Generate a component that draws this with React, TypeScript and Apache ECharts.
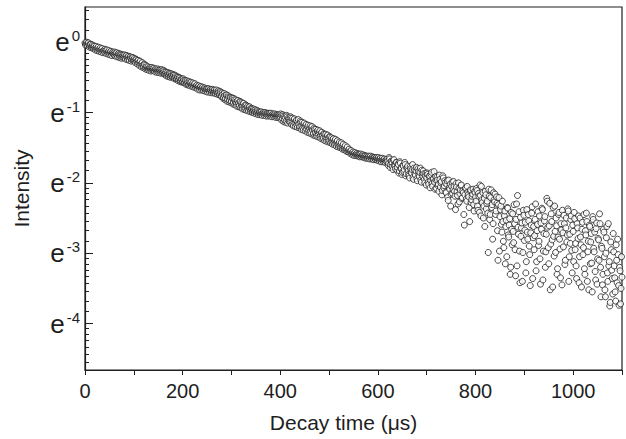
import React, { useEffect, useRef } from "react";
import * as echarts from "echarts";

// Sampling: each block holds every other sample (step 2 µs); the "o" blocks are
// the samples in between (odd µs).
const sampleStepUs = 2;

// ln(Intensity)
const lnI_0000e = [
  -0.01, -0.02, -0.03, -0.01, -0.04, -0.05, -0.03, -0.06, -0.07, -0.05,
  -0.09, -0.08, -0.10, -0.08, -0.11, -0.10, -0.12, -0.10, -0.13, -0.12,
  -0.14, -0.12, -0.13, -0.15, -0.14, -0.16, -0.14, -0.17, -0.15, -0.16,
  -0.18, -0.16, -0.17, -0.19, -0.17, -0.18, -0.20, -0.18, -0.21, -0.19,
  -0.20, -0.22, -0.19, -0.22, -0.21, -0.24, -0.21, -0.23, -0.25, -0.22,
  -0.25, -0.27, -0.24, -0.28, -0.26, -0.30, -0.28, -0.32, -0.30, -0.33,
  -0.34, -0.32, -0.36, -0.35, -0.37, -0.38, -0.37, -0.38, -0.39, -0.38,
  -0.39, -0.40, -0.39, -0.40, -0.41, -0.40, -0.41, -0.40, -0.42, -0.41,
  -0.43, -0.42, -0.45, -0.43, -0.46, -0.45, -0.47, -0.45, -0.48, -0.47,
  -0.49, -0.47, -0.50, -0.49, -0.52, -0.50, -0.53, -0.51, -0.55, -0.53,
];
const lnI_0000o = [
  -0.04, 0.0, -0.05, -0.01, -0.07, -0.03, -0.08, -0.04, -0.09, -0.06,
  -0.11, -0.06, -0.12, -0.07, -0.13, -0.08, -0.14, -0.09, -0.15, -0.11,
  -0.10, -0.16, -0.11, -0.17, -0.12, -0.18, -0.13, -0.19, -0.14, -0.18,
  -0.14, -0.20, -0.15, -0.21, -0.16, -0.22, -0.17, -0.23, -0.18, -0.22,
  -0.18, -0.24, -0.19, -0.25, -0.20, -0.26, -0.21, -0.27, -0.22, -0.26,
  -0.23, -0.29, -0.25, -0.31, -0.26, -0.33, -0.27, -0.35, -0.29, -0.36,
  -0.31, -0.38, -0.33, -0.39, -0.35, -0.40, -0.36, -0.41, -0.36, -0.40,
  -0.37, -0.42, -0.38, -0.43, -0.38, -0.43, -0.39, -0.44, -0.39, -0.44,
  -0.40, -0.46, -0.42, -0.48, -0.43, -0.49, -0.44, -0.50, -0.45, -0.50,
  -0.46, -0.52, -0.47, -0.53, -0.49, -0.55, -0.50, -0.56, -0.52, -0.57,
];
const lnI_0200e = [
  -0.56, -0.54, -0.57, -0.55, -0.58, -0.57, -0.60, -0.58, -0.59, -0.61,
  -0.60, -0.62, -0.60, -0.63, -0.62, -0.64, -0.63, -0.65, -0.64, -0.66,
  -0.65, -0.67, -0.66, -0.67, -0.68, -0.67, -0.68, -0.69, -0.68, -0.69,
  -0.70, -0.69, -0.70, -0.71, -0.70, -0.71, -0.72, -0.71, -0.74, -0.72,
  -0.77, -0.74, -0.79, -0.76, -0.80, -0.75, -0.81, -0.78, -0.83, -0.79,
  -0.84, -0.80, -0.86, -0.82, -0.85, -0.88, -0.83, -0.87, -0.90, -0.85,
  -0.89, -0.92, -0.87, -0.91, -0.94, -0.90, -0.93, -0.96, -0.92, -0.95,
  -0.97, -0.95, -0.98, -0.97, -0.99, -0.98, -1.00, -0.99, -1.01, -1.00,
  -1.01, -1.02, -1.01, -1.02, -1.01, -1.02, -1.03, -1.02, -1.03, -1.02,
  -1.03, -1.04, -1.03, -1.04, -1.03, -1.04, -1.05, -1.04, -1.05, -1.04,
];
const lnI_0200o = [
  -0.52, -0.58, -0.54, -0.60, -0.55, -0.61, -0.56, -0.62, -0.57, -0.63,
  -0.58, -0.64, -0.59, -0.65, -0.61, -0.67, -0.62, -0.68, -0.63, -0.68,
  -0.64, -0.69, -0.65, -0.70, -0.66, -0.71, -0.66, -0.71, -0.67, -0.72,
  -0.67, -0.72, -0.68, -0.73, -0.68, -0.74, -0.69, -0.75, -0.70, -0.77,
  -0.72, -0.80, -0.73, -0.82, -0.75, -0.84, -0.76, -0.85, -0.78, -0.86,
  -0.79, -0.88, -0.80, -0.89, -0.82, -0.91, -0.83, -0.92, -0.84, -0.93,
  -0.86, -0.95, -0.87, -0.96, -0.89, -0.97, -0.91, -0.98, -0.92, -0.99,
  -0.94, -1.00, -0.95, -1.01, -0.96, -1.02, -0.97, -1.03, -0.99, -1.03,
  -0.99, -1.04, -1.00, -1.04, -1.00, -1.05, -1.01, -1.05, -1.01, -1.05,
  -1.01, -1.06, -1.02, -1.06, -1.02, -1.07, -1.03, -1.07, -1.03, -1.08,
];
const lnI_0400e = [
  -1.06, -1.04, -1.08, -1.05, -1.10, -1.07, -1.12, -1.06, -1.11, -1.09,
  -1.14, -1.08, -1.13, -1.16, -1.10, -1.15, -1.12, -1.18, -1.13, -1.17,
  -1.20, -1.14, -1.19, -1.22, -1.16, -1.21, -1.18, -1.24, -1.20, -1.26,
  -1.22, -1.27, -1.21, -1.25, -1.30, -1.24, -1.28, -1.32, -1.26, -1.31,
  -1.28, -1.34, -1.29, -1.33, -1.36, -1.31, -1.35, -1.38, -1.33, -1.37,
  -1.40, -1.35, -1.39, -1.42, -1.38, -1.43, -1.40, -1.45, -1.41, -1.46,
  -1.44, -1.48, -1.45, -1.50, -1.47, -1.51, -1.49, -1.53, -1.51, -1.55,
  -1.53, -1.56, -1.55, -1.58, -1.57, -1.59, -1.58, -1.60, -1.59, -1.60,
  -1.61, -1.60, -1.61, -1.62, -1.61, -1.62, -1.63, -1.62, -1.63, -1.64,
  -1.63, -1.64, -1.63, -1.65, -1.64, -1.65, -1.64, -1.66, -1.65, -1.66,
];
const lnI_0400o = [
  -1.02, -1.11, -1.03, -1.13, -1.05, -1.14, -1.04, -1.15, -1.07, -1.13,
  -1.06, -1.17, -1.08, -1.19, -1.09, -1.20, -1.11, -1.21, -1.10, -1.22,
  -1.12, -1.24, -1.14, -1.25, -1.15, -1.26, -1.17, -1.28, -1.18, -1.29,
  -1.19, -1.30, -1.20, -1.32, -1.22, -1.33, -1.24, -1.34, -1.25, -1.35,
  -1.26, -1.37, -1.28, -1.38, -1.30, -1.40, -1.31, -1.41, -1.32, -1.42,
  -1.34, -1.43, -1.36, -1.45, -1.37, -1.46, -1.38, -1.48, -1.40, -1.49,
  -1.42, -1.50, -1.43, -1.52, -1.45, -1.53, -1.47, -1.55, -1.49, -1.56,
  -1.52, -1.58, -1.54, -1.60, -1.56, -1.61, -1.57, -1.61, -1.58, -1.62,
  -1.59, -1.63, -1.59, -1.63, -1.60, -1.64, -1.61, -1.65, -1.62, -1.65,
  -1.62, -1.66, -1.62, -1.66, -1.63, -1.67, -1.64, -1.67, -1.64, -1.68,
];
const lnI_0600e = [
  -1.66, -1.67, -1.66, -1.68, -1.67, -1.68, -1.67, -1.69, -1.68, -1.70,
  -1.69, -1.72, -1.66, -1.74, -1.70, -1.77, -1.68, -1.75, -1.80, -1.71,
  -1.78, -1.74, -1.83, -1.72, -1.79, -1.85, -1.76, -1.81, -1.74, -1.87,
  -1.78, -1.83, -1.90, -1.77, -1.85, -1.81, -1.92, -1.79, -1.87, -1.83,
  -1.94, -1.80, -1.89, -1.85, -1.96, -1.82, -1.91, -1.87, -2.00, -1.86,
  -1.93, -1.88, -2.02, -1.90, -1.97, -1.85, -2.05, -1.94, -1.99, -1.91,
  -2.08, -1.96, -2.02, -1.89, -2.06, -1.98, -2.11, -1.93, -2.04, -2.00,
  -2.14, -1.97, -2.25, -2.07, -2.02, -2.16, -1.99, -2.10, -2.05, -2.19,
  -2.01, -2.13, -2.30, -2.08, -2.15, -2.04, -2.22, -2.11, -2.45, -2.17,
  -2.07, -2.26, -2.13, -2.20, -2.55, -2.10, -2.24, -2.16, -2.31, -2.12,
];
const lnI_0600o = [
  -1.64, -1.69, -1.65, -1.70, -1.65, -1.70, -1.66, -1.71, -1.67, -1.66,
  -1.75, -1.64, -1.78, -1.69, -1.72, -1.81, -1.67, -1.76, -1.71, -1.82,
  -1.73, -1.86, -1.70, -1.80, -1.88, -1.75, -1.84, -1.71, -1.90, -1.79,
  -1.76, -1.88, -1.93, -1.80, -1.86, -1.74, -1.95, -1.82, -1.89, -1.78,
  -1.97, -1.84, -1.91, -1.79, -1.99, -1.88, -1.83, -1.95, -1.90, -2.03,
  -1.86, -1.99, -1.91, -2.07, -1.88, -2.01, -1.95, -1.84, -2.09, -1.96,
  -1.92, -2.04, -2.12, -1.95, -2.00, -2.17, -1.90, -2.07, -1.97, -2.13,
  -2.02, -2.20, -1.96, -2.09, -2.33, -2.05, -2.15, -1.98, -2.12, -2.38,
  -2.06, -2.18, -2.00, -2.27, -2.10, -2.03, -2.21, -2.14, -2.60, -2.08,
  -2.23, -2.05, -2.17, -2.35, -2.11, -2.28, -2.19, -2.09, -2.40, -2.14,
];
const lnI_0800e = [
  -2.20, -2.08, -2.33, -2.15, -2.42, -2.18, -2.05, -2.28, -2.50, -2.22,
  -2.12, -2.37, -2.26, -2.99, -2.19, -2.45, -2.10, -2.31, -2.58, -2.24,
  -2.16, -2.40, -2.29, -3.10, -2.21, -2.48, -2.33, -2.70, -2.55, -2.92,
  -2.40, -2.62, -3.05, -2.36, -2.77, -2.51, -3.20, -2.66, -2.44, -2.85,
  -2.58, -3.32, -2.30, -2.18, -2.73, -2.97, -2.49, -2.64, -3.40, -2.39,
  -2.82, -2.56, -3.12, -2.70, -2.45, -2.90, -3.46, -2.60, -2.34, -2.78,
  -2.95, -2.52, -3.25, -2.68, -2.41, -2.83, -3.08, -2.57, -2.36, -3.38,
  -2.72, -2.48, -2.98, -2.22, -2.63, -3.15, -2.29, -2.87, -2.55, -3.48,
  -2.76, -2.33, -2.99, -2.61, -3.22, -2.45, -2.80, -3.35, -2.67, -2.39,
  -2.91, -2.58, -3.10, -2.50, -2.74, -2.40, -3.05, -2.86, -2.47, -3.28,
];
const lnI_0800o = [
  -2.26, -2.11, -2.39, -2.19, -2.03, -2.47, -2.24, -2.14, -2.33, -2.62,
  -2.17, -2.29, -2.43, -2.09, -2.52, -2.21, -2.35, -2.80, -2.14, -2.27,
  -2.45, -2.20, -2.68, -2.31, -2.97, -2.38, -2.59, -2.26, -2.83, -2.47,
  -3.15, -2.53, -2.35, -2.74, -2.60, -3.30, -2.42, -2.88, -2.69, -2.31,
  -2.95, -2.52, -3.18, -2.63, -2.41, -3.42, -2.76, -2.57, -2.99, -2.46,
  -2.67, -3.28, -2.38, -2.80, -2.54, -3.02, -2.71, -2.43, -3.36, -2.62,
  -2.75, -2.30, -3.12, -2.59, -2.89, -2.47, -3.44, -2.66, -2.38, -2.97,
  -2.54, -3.20, -2.73, -2.26, -2.92, -2.61, -3.52, -2.44, -2.81, -2.35,
  -3.04, -2.69, -2.50, -3.30, -2.77, -2.42, -2.94, -2.58, -3.45, -2.71,
  -2.46, -3.16, -2.64, -2.84, -2.37, -3.40, -2.73, -2.52, -2.96, -2.60,
];
const lnI_1000e = [
  -2.69, -2.42, -2.95, -3.18, -2.58, -2.79, -3.42, -2.50, -2.88, -2.66,
  -3.02, -2.45, -3.30, -2.74, -2.55, -2.98, -3.52, -2.62, -2.84, -3.14,
  -2.48, -2.93, -2.70, -3.38, -2.57, -3.08, -2.81, -2.44, -3.20, -2.90,
  -3.45, -2.66, -3.05, -3.62, -2.78, -3.28, -2.58, -3.12, -3.70, -2.95,
  -3.36, -2.72, -3.18, -3.55, -2.88, -3.42, -3.02, -3.74, -3.25, -3.50,
  -3.34,
];
const lnI_1000o = [
  -3.12, -2.51, -2.86, -3.36, -2.64, -2.47, -3.05, -2.77, -3.48, -2.56,
  -2.92, -3.22, -2.68, -2.43, -3.40, -2.83, -2.60, -3.15, -2.72, -3.55,
  -2.52, -2.98, -3.26, -2.65, -3.44, -2.79, -3.10, -2.58, -3.62, -2.93,
  -3.30, -2.70, -3.52, -3.00, -2.62, -3.40, -3.18, -3.75, -2.84, -3.24,
  -3.58, -2.98, -3.35, -3.68, -3.10, -2.80, -3.46, -3.20, -3.72, -3.05,
];

const blocks = [
  { startUs: 0, values: lnI_0000e },
  { startUs: 1, values: lnI_0000o },
  { startUs: 200, values: lnI_0200e },
  { startUs: 201, values: lnI_0200o },
  { startUs: 400, values: lnI_0400e },
  { startUs: 401, values: lnI_0400o },
  { startUs: 600, values: lnI_0600e },
  { startUs: 601, values: lnI_0600o },
  { startUs: 800, values: lnI_0800e },
  { startUs: 801, values: lnI_0800o },
  { startUs: 1000, values: lnI_1000e },
  { startUs: 1001, values: lnI_1000o },
];

// Axis definitions
const xMin = 0;
const xMax = 1100;
const xTickStep = 100;
const xLabelValues = [0, 200, 400, 600, 800, 1000];
const yMin = -4.66; // ln scale
const yMax = 0.5;
const yMajorExponents = [-4, -3, -2, -1, 0];

const FONT = "'Liberation Sans', Arial, Helvetica, sans-serif";
const INK = "#1e1e1e";

function minorLnTicks(): number[] {
  const out: number[] = [];
  for (let n = -6; n <= 1; n++) {
    const lo = Math.exp(n);
    const hi = Math.exp(n + 1);
    for (let k = 1; k <= 8; k++) {
      const v = Math.log(lo + ((hi - lo) * k) / 9);
      if (v > yMin && v < yMax) out.push(v);
    }
  }
  return out;
}

export default function App() {
  const ref = useRef<HTMLDivElement>(null);

  useEffect(() => {
    if (!ref.current) return;
    const chart = echarts.init(ref.current, null, { renderer: "svg" });

    const data: number[][] = [];
    blocks.forEach((b) =>
      b.values.forEach((v, i) => data.push([b.startUs + i * sampleStepUs, v]))
    );
    data.sort((a, b) => a[0] - b[0]);

    chart.setOption({
      animation: false,
      backgroundColor: "#ffffff",
      grid: {
        left: 85,
        right: 4,
        top: 7,
        bottom: 69,
        show: true,
        borderColor: INK,
        borderWidth: 1.2,
        backgroundColor: "transparent",
      },
      xAxis: {
        type: "value",
        min: xMin,
        max: xMax,
        interval: xTickStep,
        axisLine: { show: true, onZero: false, lineStyle: { color: INK, width: 1.2 } },
        axisTick: { show: true, inside: false, length: 5, lineStyle: { color: INK, width: 1 } },
        axisLabel: {
          customValues: xLabelValues,
          formatter: (v: number) => (xLabelValues.includes(v) ? String(v) : ""),
          fontSize: 20,
          fontFamily: FONT,
          color: INK,
          margin: 11,
        },
        splitLine: { show: false },
        name: "Decay time (\u03bcs)",
        nameLocation: "middle",
        nameGap: 42,
        nameTextStyle: {
          fontSize: 21,
          fontFamily: FONT,
          color: INK,
          padding: [0, 20, 0, 0],
          verticalAlign: "top",
        },
      },
      yAxis: [
        {
          type: "value",
          min: yMin,
          max: yMax,
          axisLine: { show: true, onZero: false, lineStyle: { color: INK, width: 1.2 } },
          axisTick: {
            show: true,
            inside: true,
            length: 8,
            customValues: yMajorExponents,
            lineStyle: { color: INK, width: 1 },
          },
          axisLabel: {
            customValues: yMajorExponents,
            margin: 5,
            formatter: (v: number) => `{e|e}{s|${Math.round(v)}}`,
            rich: {
              e: { fontSize: 26, fontFamily: FONT, color: INK, lineHeight: 28 },
              s: {
                fontSize: 15,
                fontFamily: FONT,
                color: INK,
                verticalAlign: "top",
                lineHeight: 16,
                padding: [0, 0, 0, 2],
              },
            },
          },
          splitLine: { show: false },
          name: "Intensity",
          nameLocation: "middle",
          nameGap: 53,
          nameTextStyle: { fontSize: 21, fontFamily: FONT, color: INK },
        },
        {
          type: "value",
          min: yMin,
          max: yMax,
          position: "left",
          offset: 0,
          axisLine: { show: false, onZero: false },
          axisLabel: { show: false },
          axisTick: {
            show: true,
            inside: true,
            length: 4,
            customValues: minorLnTicks(),
            lineStyle: { color: INK, width: 1 },
          },
          splitLine: { show: false },
        },
      ],
      series: [
        {
          type: "scatter",
          data,
          symbol: "circle",
          symbolSize: 6,
          itemStyle: { color: "#ffffff", borderColor: INK, borderWidth: 1 },
        },
      ],
    });

    return () => chart.dispose();
  }, []);

  return (
    <div
      ref={ref}
      style={{ position: "fixed", left: 0, top: 0, width: 626, height: 439, background: "#fff" }}
    />
  );
}
